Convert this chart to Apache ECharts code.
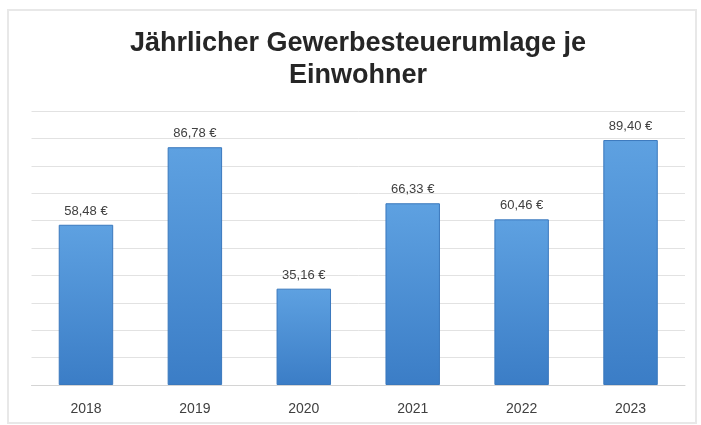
<!DOCTYPE html>
<html>
<head>
<meta charset="utf-8">
<script src="https://cdn.jsdelivr.net/npm/echarts@6/dist/echarts.min.js"></script>
<style>html,body{margin:0;padding:0;background:#fff}#c{width:701px;height:425px}</style>
</head>
<body>
<div id="c"></div>
<script>
var titleText = 'Jährlicher Gewerbesteuerumlage je\nEinwohner';
var categories = ['2018', '2019', '2020', '2021', '2022', '2023'];
var values = [58.48, 86.78, 35.16, 66.33, 60.46, 89.40];
var yMin = 0, yMax = 100, yInterval = 10;

var chart = echarts.init(document.getElementById('c'), null, {renderer: 'canvas'});
chart.setOption({
  backgroundColor: '#ffffff',
  animation: false,
  graphic: [{
    type: 'rect', shape: {x: 8, y: 10, width: 688, height: 413},
    style: {fill: 'none', stroke: '#e8e8e8', lineWidth: 2}, z: -1
  }],
  title: {
    text: titleText, left: 353, top: 23, textAlign: 'center',
    textStyle: {fontFamily: 'Liberation Sans, Arial', fontWeight: 'bold', fontSize: 27, lineHeight: 32, color: '#262626'}
  },
  grid: {left: 31.5, right: 16, top: 111, bottom: 40},
  xAxis: {
    type: 'category', data: categories,
    axisLine: {show: true, lineStyle: {color: '#d4d4d4', width: 1}},
    axisTick: {show: false},
    axisLabel: {fontFamily: 'Liberation Sans, Arial', fontSize: 14, color: '#404040', margin: 17}
  },
  yAxis: {
    type: 'value', min: yMin, max: yMax, interval: yInterval,
    axisLine: {show: false}, axisTick: {show: false}, axisLabel: {show: false},
    splitLine: {lineStyle: {color: '#e2e2e2', width: 1}}
  },
  series: [{
    type: 'bar', data: values, barCategoryGap: '50%',
    itemStyle: {
      color: new echarts.graphic.LinearGradient(0, 0, 0, 1, [
        {offset: 0, color: '#5ea1e1'}, {offset: 1, color: '#3b7dc6'}
      ]),
      borderColor: '#3a78bd', borderWidth: 1
    },
    label: {
      show: true, position: 'top', distance: 7,
      fontFamily: 'Liberation Sans, Arial', fontSize: 13, color: '#404040',
      formatter: function (p) { return p.value.toFixed(2).replace('.', ',') + ' €'; }
    }
  }]
});
</script>
</body>
</html>
